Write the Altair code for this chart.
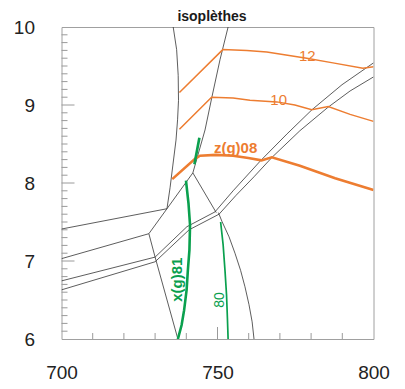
import altair as alt
import pandas as pd

# ---- black phase-boundary lines (x = T, y = P) ----
b1_x = [735.8, 736.9, 737.4, 737.5, 737.2, 736.7, 735.7, 734.8, 733.8]
b1_y = [10.0, 9.71, 9.38, 9.06, 8.81, 8.55, 8.23, 7.94, 7.67]
b2_x = [753.4, 750.8, 748.2, 746.0, 742.1]
b2_y = [10.0, 9.58, 9.10, 8.68, 8.13]
b3_x = [742.1, 749.6]
b3_y = [8.13, 7.62]
b4_x = [742.1, 733.8]
b4_y = [8.13, 7.67]
b5_x = [700.0, 733.8]
b5_y = [7.41, 7.67]
b6_x = [733.8, 728.0]
b6_y = [7.67, 7.35]
b7_x = [700.0, 728.0]
b7_y = [7.03, 7.35]
b8_x = [728.0, 730.0]
b8_y = [7.35, 7.05]
b9_x = [700.0, 730.0, 740.2, 749.2, 755.0, 763.9, 772.3, 780.3, 789.9, 800.0]
b9_y = [6.745, 7.05, 7.44, 7.63, 7.90, 8.29, 8.63, 8.94, 9.26, 9.54]
b10_x = [700.0, 730.0, 740.9, 750.5, 755.9, 761.7, 767.5, 776.4, 785.4, 792.5, 800.0]
b10_y = [6.63, 6.99, 7.40, 7.60, 7.84, 8.08, 8.33, 8.67, 8.97, 9.18, 9.36]
b11_x = [730.0, 737.3]
b11_y = [7.05, 6.0]
b12_x = [750.3, 751.4, 753.7, 755.6, 757.4, 758.8, 760.1, 761.1, 761.7]
b12_y = [7.62, 7.51, 7.31, 7.10, 6.88, 6.67, 6.44, 6.22, 6.0]

# ---- orange isopleths z(g) ----
o12_x = [737.8, 751.7, 759.4, 765.8, 778.6, 787.0, 796.6, 800.0]
o12_y = [9.16, 9.71, 9.70, 9.68, 9.60, 9.54, 9.47, 9.49]
o10_x = [737.8, 748.1, 755.0, 760.4, 769.0, 774.8, 780.2, 785.5, 792.5, 800.0]
o10_y = [8.69, 9.10, 9.09, 9.06, 9.04, 9.00, 8.94, 8.98, 8.88, 8.79]
o08_x = [735.5, 742.8, 744.4, 749.5, 755.0, 759.9, 764.1, 767.4, 776.4, 787.7, 800.0]
o08_y = [8.05, 8.31, 8.35, 8.36, 8.35, 8.32, 8.29, 8.33, 8.22, 8.06, 7.91]

# ---- green isopleths x(g) ----
g81a_x = [744.2, 742.6]
g81a_y = [8.58, 8.24]
g81b_x = [739.9, 740.7, 741.2, 741.0, 740.5, 740.1, 739.3, 738.5, 737.3]
g81b_y = [8.03, 7.74, 7.46, 7.14, 6.88, 6.63, 6.37, 6.18, 6.0]
g80_x = [751.0, 751.8, 752.4, 752.9, 753.2, 753.4]
g80_y = [7.50, 7.21, 6.88, 6.56, 6.24, 6.0]

# ---- labels ----
title_text = "isoplèthes"
orange_labels = ["12", "10"]
orange_lab_x = [778.8, 769.6]
orange_lab_y = [9.63, 9.07]
zg_label = ["z(g)08"]
zg_lab_x = [755.8]
zg_lab_y = [8.45]
xg_label = ["x(g)81"]
xg_lab_x = [736.9]
xg_lab_y = [6.76]
g80_label = ["80"]
g80_lab_x = [750.8]
g80_lab_y = [6.50]

# ---- axis ticks ----
x_tick_labels = [700, 750, 800]
y_tick_labels = [6, 7, 8, 9, 10]
x_minor = [710, 720, 730, 740, 760, 770, 780, 790]
x_major = [750]
y_major = [7, 8, 9]
y_minor = [round(6 + 0.1 * i, 1) for i in range(1, 40) if i % 10 != 0]

ORANGE = "#ED7D31"
GREEN = "#0AA04E"
BLACK = "#333333"
FONT = "Liberation Sans"


def lines(pairs):
    frames = []
    for name, xs, ys in pairs:
        frames.append(pd.DataFrame({"x": xs, "y": ys, "line": name, "o": list(range(len(xs)))}))
    return pd.concat(frames, ignore_index=True)


black_df = lines([
    ("b1", b1_x, b1_y), ("b2", b2_x, b2_y), ("b3", b3_x, b3_y), ("b4", b4_x, b4_y),
    ("b5", b5_x, b5_y), ("b6", b6_x, b6_y), ("b7", b7_x, b7_y), ("b8", b8_x, b8_y),
    ("b9", b9_x, b9_y), ("b10", b10_x, b10_y), ("b11", b11_x, b11_y), ("b12", b12_x, b12_y),
])
orange_thin_df = lines([("o12", o12_x, o12_y), ("o10", o10_x, o10_y)])
orange_thick_df = lines([("o08", o08_x, o08_y)])
green_thick_df = lines([("g81a", g81a_x, g81a_y), ("g81b", g81b_x, g81b_y)])
green_thin_df = lines([("g80", g80_x, g80_y)])

xs = alt.Scale(domain=[700, 800], nice=False, zero=False)
ys = alt.Scale(domain=[6, 10], nice=False, zero=False)
X = alt.X("x:Q", scale=xs, title=None,
          axis=alt.Axis(values=x_tick_labels, labelPadding=24, format="d", labelFlush=False))
Y = alt.Y("y:Q", scale=ys, title=None,
          axis=alt.Axis(values=y_tick_labels, labelPadding=27, format="d", labelFlush=False))


def line_layer(df, color, width):
    return alt.Chart(df).mark_line(color=color, strokeWidth=width, clip=True).encode(
        x=X, y=Y, detail="line:N", order="o:Q")


def text_layer(lab, lx, ly, color, size, weight="normal", angle=0):
    df = pd.DataFrame({"t": lab, "x": lx, "y": ly})
    return alt.Chart(df).mark_text(color=color, fontSize=size, fontWeight=weight,
                                   angle=angle, font=FONT, baseline="middle",
                                   align="center").encode(x=X, y=Y, text="t:N")


grey = "#9a9a9a"
ty_minor = alt.Chart(pd.DataFrame({"y": y_minor})).mark_rule(color=grey, strokeWidth=1).encode(
    y=Y, x=alt.value(0), x2=alt.value(6))
ty_major = alt.Chart(pd.DataFrame({"y": y_major})).mark_rule(color=grey, strokeWidth=1).encode(
    y=Y, x=alt.value(0), x2=alt.value(13))
tx_minor = alt.Chart(pd.DataFrame({"x": x_minor})).mark_rule(color=grey, strokeWidth=1).encode(
    x=X, y=alt.value(312), y2=alt.value(306))
tx_major = alt.Chart(pd.DataFrame({"x": x_major})).mark_rule(color=grey, strokeWidth=1).encode(
    x=X, y=alt.value(312), y2=alt.value(300))

title_layer = alt.Chart(pd.DataFrame({"t": [title_text]})).mark_text(
    fontSize=14, fontWeight="bold", font=FONT, color="#1a1a1a",
    align="center", baseline="alphabetic"
).encode(text="t:N", x=alt.value(150.5), y=alt.value(-6))

chart = alt.layer(
    ty_minor, ty_major, tx_minor, tx_major,
    line_layer(black_df, BLACK, 0.8),
    line_layer(orange_thin_df, ORANGE, 1.5),
    line_layer(orange_thick_df, ORANGE, 2.6),
    line_layer(green_thin_df, GREEN, 1.7),
    line_layer(green_thick_df, GREEN, 2.6),
    text_layer(orange_labels, orange_lab_x, orange_lab_y, ORANGE, 15),
    text_layer(zg_label, zg_lab_x, zg_lab_y, ORANGE, 15, "bold"),
    text_layer(xg_label, xg_lab_x, xg_lab_y, GREEN, 15, "bold", 270),
    text_layer(g80_label, g80_lab_x, g80_lab_y, GREEN, 14, "normal", 270),
    title_layer,
).properties(
    width=312, height=312,
    autosize=alt.AutoSizeParams(type="none"),
    padding={"left": 53.5, "top": 19, "right": 20, "bottom": 48},
).configure_view(
    stroke="#a0a0a0", strokeWidth=1
).configure_axis(
    labelFont=FONT, labelFontSize=19, labelColor="#222222",
    ticks=False, domain=False, grid=False,
)

chart.save("out.html", embed_options={"renderer": "svg", "actions": False})
